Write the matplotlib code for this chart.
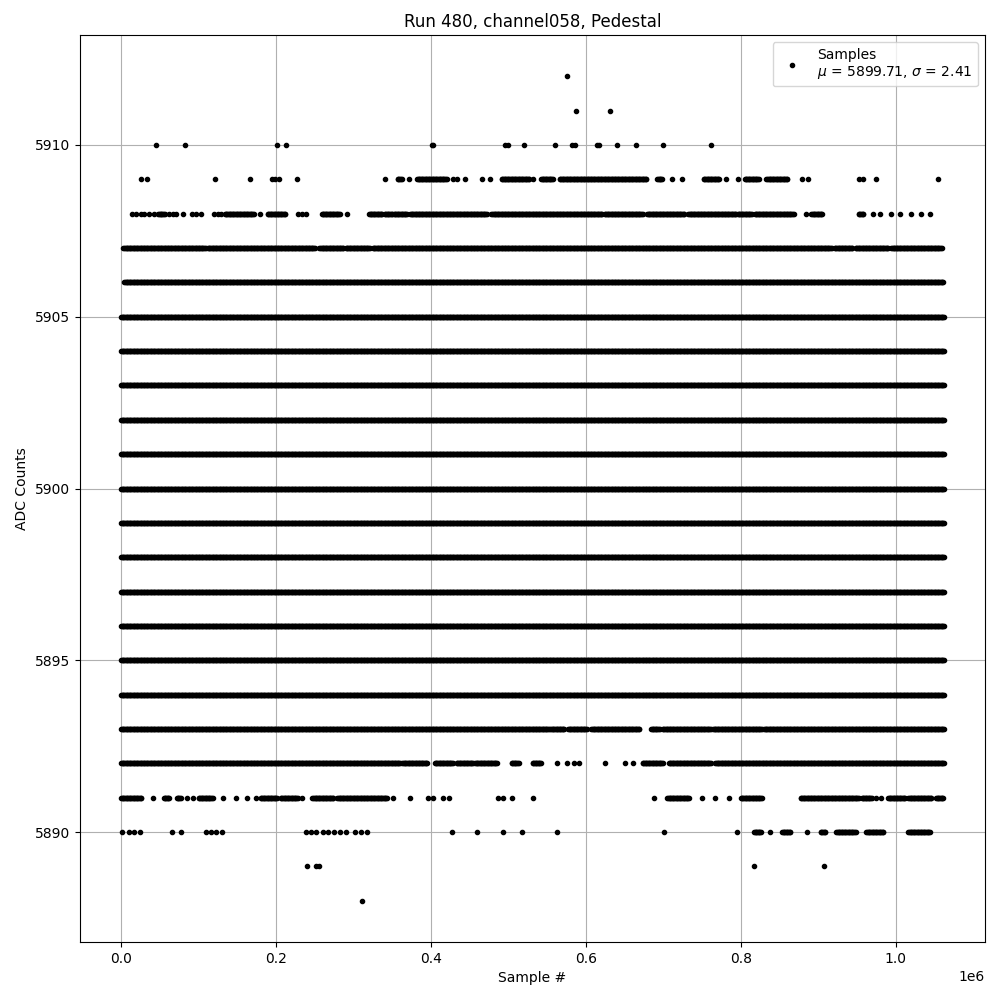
import numpy as np
import matplotlib
matplotlib.use("Agg")
import matplotlib.pyplot as plt

# positions in thousands of samples; (a, b) = covered stretch, plain number = single sample
lvl_5912 = [575]
lvl_5911 = [587, 631]
lvl_5910 = [45, 83, 201, 213, 401, 402, 495, 499, 520, 560, 582, 586, 614, 617,
            640, 665, 699, 762]
lvl_5909 = [26, 33, 121, 166, 195, 199, 204, 227, 341, (357, 362), 372, (382, 420),
            428, 433, 444, 466, 476, (491, 527), 532, (542, 557), (566, 678),
            (692, 698), 711, 724, (752, 772), 781, 796, (805, 823), (833, 860),
            879, 886, 953, 958, 974, 1055]
lvl_5908 = [14, 19, 26, 30, 36, 42, (48, 56), 62, 67, 71, 80, 91, 97, 103, 120, 125, 129,
            (134, 171), 179, (189, 212), 228, 233, 238, (259, 282), 291, (320, 337),
            (340, 350), (352, 369), (373, 472), (478, 621), (624, 673), (679, 727),
            (732, 794), (796, 814), (818, 868), 884, (891, 905), (952, 958), 971, 979,
            994, 1006, 1019, 1033, 1044]
lvl_5907 = [(3, 109), (112, 250), (256, 287), (290, 321), (325, 917), (921, 944),
            (948, 990), (994, 1059)]
lvl_5906 = [(4, 1061)]
lvl_full = [(0, 1062)]  # 5894 .. 5905
lvl_5893 = [(0, 553), (555, 572), (577, 601), (607, 669), (684, 695), (699, 761),
            (764, 827), (830, 1062)]
lvl_5892 = [(0, 360), (363, 395), (405, 428), (433, 454), (457, 467), (468, 485),
            (504, 513), (531, 542), 563, 575, 584, 591, 624, 651, 661, (673, 699),
            (707, 761), (767, 1062)]
lvl_5891 = [(0, 26), 41, (55, 62), (72, 77), 85, 93, (100, 118), 131, 148, 163, 174,
            (180, 201), (206, 228), 234, (247, 274), (279, 343), 351, 373, 396, 403,
            415, 423, 486, 493, 504, 532, 688, (705, 733), 750, 767, 785, (800, 827),
            (877, 952), (956, 969), 974, 981, (990, 1012), (1016, 1046), (1052, 1061)]
lvl_5890 = [1, 10, 17, 24, 66, 77, 110, 116, 122, 130, 238, 245, 252, 260, 267, 275,
            283, 290, 302, 310, 318, 427, 460, 493, 517, 563, 701, 795, (817, 826),
            837, (853, 864), 885, (903, 909), (923, 948), (962, 984), (1016, 1044)]
lvl_5889 = [240, 252, 256, 817, 907]
lvl_5888 = [311]

levels = {5912: lvl_5912, 5911: lvl_5911, 5910: lvl_5910, 5909: lvl_5909,
          5908: lvl_5908, 5907: lvl_5907, 5906: lvl_5906, 5893: lvl_5893,
          5892: lvl_5892, 5891: lvl_5891, 5890: lvl_5890, 5889: lvl_5889,
          5888: lvl_5888}
for v in range(5894, 5906):
    levels[v] = lvl_full

mu, sigma = 5899.71, 2.41


def expand(runs):
    xs = []
    for r in runs:
        if isinstance(r, tuple):
            xs.extend(np.arange(r[0], r[1] + 0.01, 1.0))
        else:
            xs.append(r)
    return np.array(xs, dtype=float) * 1000


x = []
y = []
for adc, runs in sorted(levels.items()):
    xs = expand(runs)
    x.append(xs)
    y.append(np.full(len(xs), adc))
x = np.concatenate(x)
y = np.concatenate(y)

fig, ax = plt.subplots(figsize=(10, 10), dpi=100)
ax.plot(x, y, 'k.', label=f"Samples\n$\\mu$ = {mu:.2f}, $\\sigma$ = {sigma:.2f}")
ax.set_title("Run 480, channel058, Pedestal")
ax.set_xlabel("Sample #")
ax.set_ylabel("ADC Counts")
ax.legend(loc="upper right")
ax.grid(True)
fig.subplots_adjust(left=0.080, right=0.985, top=0.965, bottom=0.058)
fig.savefig("out.png")
